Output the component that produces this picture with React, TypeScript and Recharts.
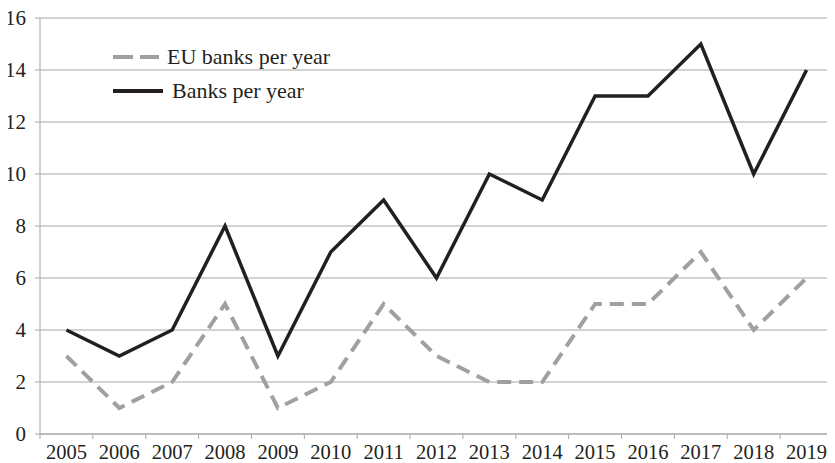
import React from "react";
import { LineChart, Line, XAxis, YAxis, CartesianGrid } from "recharts";

const YEARS = ["2005","2006","2007","2008","2009","2010","2011","2012","2013","2014","2015","2016","2017","2018","2019"];
const BANKS = [4, 3, 4, 8, 3, 7, 9, 6, 10, 9, 13, 13, 15, 10, 14];
const EU_BANKS = [3, 1, 2, 5, 1, 2, 5, 3, 2, 2, 5, 5, 7, 4, 6];
const Y_TICKS = [0, 2, 4, 6, 8, 10, 12, 14, 16];
const X_TICKS = Array.from({ length: YEARS.length + 1 }, (_, i) => i);

const SERIES = [
  { key: "eu", name: "EU banks per year", color: "#a0a0a0", dash: "14 8", width: 4 },
  { key: "banks", name: "Banks per year", color: "#231f20", dash: undefined as string | undefined, width: 3.5 },
];

const data = YEARS.map((y, i) => ({ year: y, pos: i + 0.5, eu: EU_BANKS[i], banks: BANKS[i] }));

const W = 835;
const H = 455;
const MARGIN = { top: 10, right: 2, left: 8, bottom: 0 };
const Y_W = 32;
const HALF_BAND = (W - MARGIN.left - MARGIN.right - Y_W) / YEARS.length / 2;

const FONT = "Liberation Serif";
const GRID = "#a6a6a6";
const TEXT = "#231f20";

const XTick = (props: any) => {
  const { x, y, payload } = props;
  const idx = payload.value;
  if (idx >= YEARS.length) return null;
  return (
    <text x={x + HALF_BAND} y={y} dy="0.71em" textAnchor="middle" fill={TEXT} fontSize={20.5} fontFamily={FONT}>
      {YEARS[idx]}
    </text>
  );
};

const YTick = (props: any) => {
  const { x, y, payload } = props;
  return (
    <text x={x} y={y} dy="0.355em" textAnchor="end" fill={TEXT} fontSize={21} fontFamily={FONT}>
      {payload.value}
    </text>
  );
};

function LegendBox() {
  return (
    <div style={{ position: "absolute", left: 113, top: 32, fontFamily: FONT, fontSize: 22, color: TEXT }}>
      {SERIES.map((s) => (
        <div key={s.key} style={{ display: "flex", alignItems: "center", height: 34 }}>
          <svg width={52} height={8} style={{ marginRight: s.dash ? 2 : 7 }}>
            <line x1={0} y1={4} x2={s.dash ? 46 : 50} y2={4} stroke={s.color} strokeWidth={4}
              strokeDasharray={s.dash ? "20 7" : undefined} />
          </svg>
          <span style={{ lineHeight: "22px", whiteSpace: "nowrap" }}>{s.name}</span>
        </div>
      ))}
    </div>
  );
}

export default function App() {
  return (
    <div style={{ position: "relative", width: W, height: H, marginLeft: -8, fontFamily: FONT }}>
      <LineChart width={W} height={H} data={data} margin={MARGIN}>
        <CartesianGrid vertical={false} stroke={GRID} strokeWidth={1} />
        <XAxis
          dataKey="pos"
          type="number"
          domain={[0, YEARS.length]}
          ticks={X_TICKS}
          interval={0}
          height={29}
          tick={<XTick />}
          tickSize={5}
          tickMargin={5}
          axisLine={{ stroke: GRID }}
          tickLine={{ stroke: GRID }}
        />
        <YAxis
          domain={[0, 16]}
          ticks={Y_TICKS}
          interval={0}
          width={Y_W}
          tickSize={5}
          tickMargin={9}
          axisLine={{ stroke: GRID }}
          tickLine={{ stroke: GRID }}
          tick={<YTick />}
        />
        {SERIES.map((s) => (
          <Line
            key={s.key}
            dataKey={s.key}
            name={s.name}
            stroke={s.color}
            strokeWidth={s.width}
            strokeDasharray={s.dash}
            dot={false}
            activeDot={false}
            isAnimationActive={false}
          />
        ))}
      </LineChart>
      <LegendBox />
    </div>
  );
}
